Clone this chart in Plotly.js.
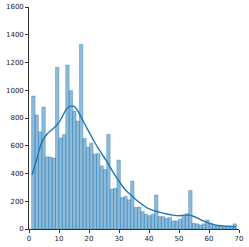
<!DOCTYPE html>
<html><head><meta charset="utf-8">
<script src="https://cdn.plot.ly/plotly-3.0.1.min.js"></script>
<style>html,body{margin:0;padding:0;background:#fff}#chart{width:249px;height:247px}</style>
</head><body><div id="chart"></div>
<script>
// Histogram: bins start at binStart with width binWidth
const binStart = 0.87;
const binWidth = 1.138;
const counts = [958, 822, 700, 879, 520, 518, 512, 1165, 655, 680,
  1182, 997, 850, 778, 1330, 652, 590, 618, 540, 543,
  455, 430, 682, 288, 293, 497, 226, 235, 210, 345,
  155, 158, 125, 106, 96, 106, 245, 89, 89, 77,
  82, 58, 58, 70, 100, 110, 277, 41, 37, 29,
  37, 65, 41, 24, 24, 17, 17, 20, 20, 37];
// KDE curve (scaled to counts)
const kdeX = [1, 2, 3, 4, 5, 6, 7, 8, 9, 10, 11, 12, 13, 14, 15, 16, 17, 18, 20, 22, 24, 26, 28, 30, 32, 34, 36, 38, 40, 42, 44, 46, 48, 50, 52, 53.5, 55, 56.5, 58, 60, 62, 64, 66, 68, 69];
const kdeY = [389, 460, 535, 610, 655, 685, 705, 722, 742, 768, 805, 848, 876, 886, 884, 860, 822, 780, 700, 620, 550, 485, 410, 345, 285, 245, 205, 172, 145, 130, 118, 108, 100, 96, 100, 100, 90, 75, 58, 42, 30, 23, 20, 18, 17];
const xTicks = [0, 10, 20, 30, 40, 50, 60, 70];
const yTicks = [0, 200, 400, 600, 800, 1000, 1200, 1400, 1600];

const centers = counts.map((c, i) => binStart + (i + 0.5) * binWidth);

const traces = [
  {type: 'bar', x: centers, y: counts, width: binWidth,
   marker: {color: 'rgba(31,119,180,0.5)', line: {color: 'rgba(31,119,180,0.75)', width: 0.5}},
   hoverinfo: 'skip'},
  {type: 'scatter', mode: 'lines', x: kdeX, y: kdeY,
   line: {color: '#1f77b4', width: 1.4, shape: 'spline', smoothing: 1}}
];
const axFont = {family: 'DejaVu Sans', size: 7, color: '#222'};
const layout = {
  width: 249, height: 247,
  margin: {l: 29, r: 10, t: 7, b: 18},
  paper_bgcolor: '#fff', plot_bgcolor: '#fff',
  showlegend: false, bargap: 0,
  xaxis: {range: [0, 70], tickvals: xTicks, ticktext: xTicks.map(String),
    showgrid: false, zeroline: false, showline: true, linecolor: '#000', linewidth: 0.8,
    ticks: 'outside', ticklen: 3, tickwidth: 0.8, tickcolor: '#000', tickfont: axFont},
  yaxis: {range: [0, 1600], tickvals: yTicks, ticktext: yTicks.map(String),
    showgrid: false, zeroline: false, showline: true, linecolor: '#000', linewidth: 0.8,
    ticks: 'outside', ticklen: 3, tickwidth: 0.8, tickcolor: '#000', tickfont: axFont}
};
Plotly.newPlot('chart', traces, layout, {displayModeBar: false, staticPlot: true});
</script></body></html>
